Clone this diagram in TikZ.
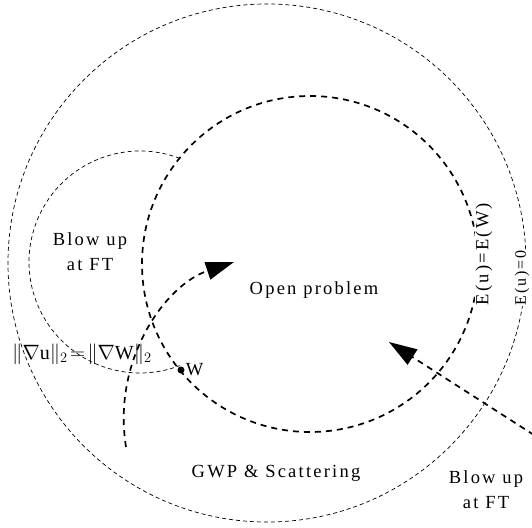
\documentclass[tikz,border=0pt]{standalone}
\usepackage{fontspec}
\setmainfont[LetterSpace=12]{Liberation Serif}
\usetikzlibrary{arrows.meta}

\begin{document}
\begin{tikzpicture}[x=1pt, y=-1pt,
  thin dash/.style={line width=0.7pt, dash pattern=on 4pt off 3pt},
  thick dash/.style={line width=1.7pt, dash pattern=on 6pt off 5pt},
  flow/.style={thick dash, -{Triangle[length=28pt,width=18pt]}},
  lbl/.style={font=\fontsize{18.5}{25}\selectfont, align=center, inner sep=1pt},
  energy/.style={lbl, rotate=90, fill=white, inner sep=0.5pt}]

\useasboundingbox (0,0) rectangle (532,527);

\draw[thin dash] (267,263) circle[radius=259];

\draw[thick dash] (310,264) circle[radius=168];

\draw[thin dash] ([shift={(-69:111)}]140,262) arc[start angle=-69, end angle=-291, radius=111];

\node[lbl] (blowL) at (90,252) {Blow up\\at FT};
\node[lbl] (open) at (314,290) {Open problem};
\node[lbl] (gwp) at (276,473) {GWP \& Scattering};
\node[lbl] (blowR) at (486,490) {Blow up\\at FT};
\node[lbl, font=\fontsize{20}{25}\selectfont] (norm) at (82,354) {$\|\nabla\mathrm{u}\|_{2}\!=\!\|\nabla\mathrm{W}\|_{2}$};

\node[energy] (eW) at (484,254) {E(u)=E(W)};
\node[energy, font=\fontsize{16}{20}\selectfont] (e0) at (522,278) {E(u)=0};

\node[circle, fill, inner sep=0pt, minimum size=7pt] (w) at (181,370) {};
\node[lbl, anchor=west] (wlbl) at (w.east) {W};

\coordinate (s1) at (126,447);
\coordinate (t1) at (234,262);
\coordinate (s2) at (534,435);
\coordinate (t2) at (389,342);

\draw[flow] (s1) .. controls (112,360) and (165,285) .. (t1);
\draw[flow] (s2) -- (t2);
\end{tikzpicture}
\end{document}
